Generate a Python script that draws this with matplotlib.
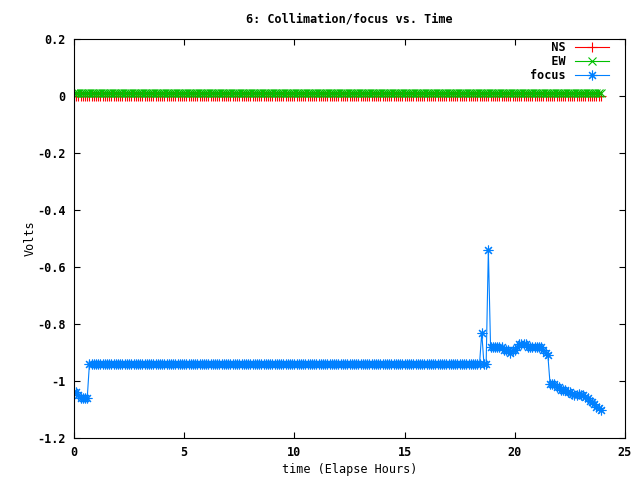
import numpy as np
import matplotlib
matplotlib.use("Agg")
import matplotlib.pyplot as plt

# gnuplot-like look: bold monospace text, ticks inside on every side
plt.rcParams['font.family'] = ['DejaVu Sans Mono']
plt.rcParams['font.weight'] = 'bold'
plt.rcParams['font.size'] = 8.5

# samples every 0.1 hour, 0.0 .. 23.9
time = np.round(np.arange(240) * 0.1, 1)

ns = [0.0] * 240
ew = [0.01] * 240

focus = (
    [-1.04, -1.04, -1.05]
    + [-1.06, -1.06, -1.06, -1.06]
    + [-0.94] * 178                      # 0.7 .. 18.4 h
    + [-0.83, -0.94, -0.94, -0.54]       # 18.5 .. 18.8 h
    + [-0.88] * 6                        # 18.9 .. 19.4 h
    + [-0.89, -0.89, -0.89, -0.90, -0.89, -0.89]
    + [-0.88, -0.87, -0.87, -0.87, -0.87, -0.88]
    + [-0.88] * 6
    + [-0.89, -0.90, -0.91]
    + [-1.01, -1.01, -1.01, -1.02, -1.02, -1.03, -1.03, -1.03,
       -1.04, -1.04, -1.045, -1.05, -1.05, -1.045, -1.05, -1.05,
       -1.055, -1.06, -1.07, -1.075, -1.08, -1.09, -1.095, -1.10]
)

x_ticks = [0, 5, 10, 15, 20, 25]
y_ticks = [0.2, 0, -0.2, -0.4, -0.6, -0.8, -1, -1.2]

fig = plt.figure(figsize=(6.4, 4.8), dpi=100)
ax = fig.add_axes([74 / 640, 1 - 438 / 480, 551 / 640, 399 / 480])

ax.plot(time, ns, color='#ff0000', lw=0.8, marker='+', ms=7, mew=0.8, label='   NS')
ax.plot(time, ew, color='#00c000', lw=0.8, marker='x', ms=5.5, mew=0.8, label='   EW')
ax.plot(time, focus, color='#0080ff', lw=0.8, marker=(8, 2, 0), ms=7, mew=0.8, label='focus')

ax.set_xlim(0, 25)
ax.set_ylim(-1.2, 0.2)
ax.set_xticks(x_ticks)
ax.set_yticks(y_ticks)
ax.set_yticklabels(['0.2', '0', '-0.2', '-0.4', '-0.6', '-0.8', '-1', '-1.2'])
ax.tick_params(direction='in', length=4.5, width=0.8, top=True, right=True, pad=6)
for s in ax.spines.values():
    s.set_linewidth(0.8)

ax.set_xlabel('time (Elapse Hours)', labelpad=3)
ax.set_ylabel('Volts', labelpad=0)
fig.text(349 / 640, 1 - 19 / 480, '6: Collimation/focus vs. Time', ha='center', va='center')

ax.legend(loc='upper right', bbox_to_anchor=(0.983, 1.013), markerfirst=False, frameon=False,
          handlelength=2.8, handletextpad=0.8, labelspacing=0.1, borderaxespad=0.2)

fig.savefig('out.png', dpi=100)
